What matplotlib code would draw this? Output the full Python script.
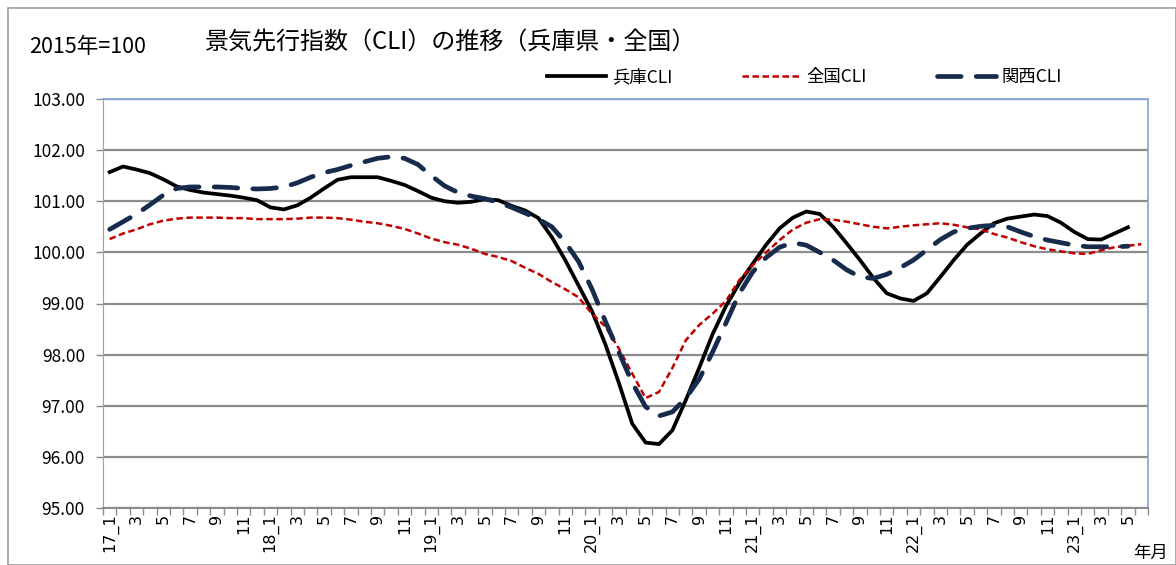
import matplotlib
matplotlib.use("Agg")
from matplotlib import pyplot as plt
from matplotlib.patches import Rectangle

plt.rcParams['font.family'] = ['Noto Sans CJK JP', 'DejaVu Sans']

# months 2017_1 .. 2023_6
months = []
for y in range(17, 24):
    for m in range(1, 13):
        if y == 23 and m > 6:
            break
        months.append((y, m))

hyogo = [101.57, 101.68, 101.62, 101.55, 101.43, 101.29, 101.22, 101.17, 101.14, 101.11,
         101.07, 101.02, 100.88, 100.84, 100.92, 101.07, 101.25, 101.42, 101.47, 101.47,
         101.47, 101.40, 101.32, 101.20, 101.07, 101.00, 100.97, 100.99, 101.04, 101.02,
         100.91, 100.82, 100.67, 100.30, 99.85, 99.35, 98.85, 98.20, 97.45, 96.65,
         96.28, 96.25, 96.52, 97.11, 97.74, 98.40, 98.95, 99.40, 99.78, 100.15,
         100.47, 100.68, 100.80, 100.75, 100.50, 100.18, 99.85, 99.50, 99.20, 99.10,
         99.05, 99.20, 99.52, 99.85, 100.15, 100.37, 100.57, 100.66, 100.70, 100.74,
         100.71, 100.58, 100.40, 100.26, 100.25, 100.37, 100.49]

zenkoku = [100.26, 100.37, 100.45, 100.55, 100.62, 100.66, 100.68, 100.68, 100.68, 100.67,
           100.67, 100.65, 100.65, 100.65, 100.66, 100.68, 100.68, 100.67, 100.64, 100.60,
           100.57, 100.52, 100.46, 100.37, 100.27, 100.20, 100.15, 100.07, 99.97, 99.91,
           99.83, 99.70, 99.58, 99.42, 99.28, 99.12, 98.80, 98.55, 98.12, 97.63,
           97.15, 97.27, 97.74, 98.28, 98.58, 98.80, 99.05, 99.46, 99.75, 100.00,
           100.24, 100.45, 100.58, 100.65, 100.64, 100.60, 100.55, 100.50, 100.47, 100.50,
           100.53, 100.55, 100.57, 100.54, 100.49, 100.45, 100.36, 100.29, 100.20, 100.12,
           100.06, 100.02, 99.98, 99.97, 100.04, 100.10, 100.13, 100.16]

kansai = [100.45, 100.60, 100.75, 100.93, 101.12, 101.25, 101.28, 101.28, 101.28, 101.27,
          101.25, 101.24, 101.25, 101.28, 101.36, 101.47, 101.56, 101.62, 101.70, 101.77,
          101.84, 101.87, 101.84, 101.72, 101.50, 101.30, 101.17, 101.10, 101.05, 100.98,
          100.88, 100.77, 100.65, 100.50, 100.20, 99.82, 99.28, 98.65, 98.05, 97.45,
          96.98, 96.80, 96.88, 97.15, 97.52, 98.05, 98.62, 99.20, 99.62, 99.90,
          100.10, 100.19, 100.14, 100.00, 99.85, 99.66, 99.52, 99.49, 99.57, 99.70,
          99.85, 100.05, 100.25, 100.40, 100.47, 100.51, 100.53, 100.50, 100.40, 100.31,
          100.24, 100.19, 100.14, 100.11, 100.11, 100.11, 100.12]

labels = []
for y, m in months:
    if m == 1:
        labels.append(str(y) + "_1")
    else:
        labels.append(str(m))

fig = plt.figure(figsize=(11.76, 5.65), dpi=100)
ax = fig.add_axes([103 / 1176, 1 - 508 / 565, (1148 - 103) / 1176, (508 - 99) / 565])

# outer chart border
fig.patches.append(Rectangle((8 / 1176, 0), 1 - 8 / 1176, 1 - 8 / 565, transform=fig.transFigure,
                             fill=False, edgecolor="#a0a0a0", linewidth=1.2))

ax.plot(range(len(hyogo)), hyogo, color="black", lw=2.7, label="兵庫CLI", solid_joinstyle="round")
ax.plot(range(len(zenkoku)), zenkoku, color="#c00000", lw=1.8, dashes=(2.6, 1.4), label="全国CLI")
ax.plot(range(len(kansai)), kansai, color="#172c4d", lw=3.4, dashes=(5.0, 3.2),
        dash_capstyle="round", label="関西CLI")

ax.set_ylim(95, 103)
ax.set_xlim(-0.5, len(months) - 0.5)
ax.set_yticks([95 + i for i in range(9)])
ax.set_yticklabels(["%.2f" % (95 + i) for i in range(9)], fontsize=12.5)
ax.grid(axis="y", color="#8c8c8c", lw=1.6)
ax.set_axisbelow(True)

ax.set_xticks(range(0, len(months), 2))
ax.set_xticklabels(labels[::2], rotation=90, fontsize=11.5, family="DejaVu Sans")
ax.set_xticks([i - 0.5 for i in range(len(months) + 1)], minor=True)
ax.tick_params(axis="x", which="major", length=0, pad=4)
ax.tick_params(axis="x", which="minor", length=5, color="#8c8c8c", width=1)
ax.tick_params(axis="y", length=5, color="#8c8c8c", width=1, pad=8)

for s in ["top", "right"]:
    ax.spines[s].set_color("#7fa6d9")
    ax.spines[s].set_linestyle((0, (1, 1)))
    ax.spines[s].set_linewidth(1.2)
ax.spines["left"].set_color("#a0a0a0")
ax.spines["left"].set_linestyle((0, (1, 1)))
ax.spines["bottom"].set_color("#8c8c8c")
ax.spines["bottom"].set_linewidth(1.5)

fig.text(29 / 1176, 1 - 47 / 565, "2015年=100", fontsize=15.5, va="center")
fig.text(205 / 1176, 1 - 42 / 565, "景気先行指数（CLI）の推移（兵庫県・全国）", fontsize=17.3, va="center")
fig.text(1133 / 1176, 1 - 553 / 565, "年月", fontsize=12.5, va="center")

ax.legend(loc="center right", bbox_to_anchor=((1062 - 103) / 1045, 1 + 22 / 409), ncol=3,
          frameon=False, fontsize=12.5, handlelength=3.4, columnspacing=4.0, handletextpad=0.35,
          borderaxespad=0, borderpad=0)

fig.savefig("out.png", dpi=100)
